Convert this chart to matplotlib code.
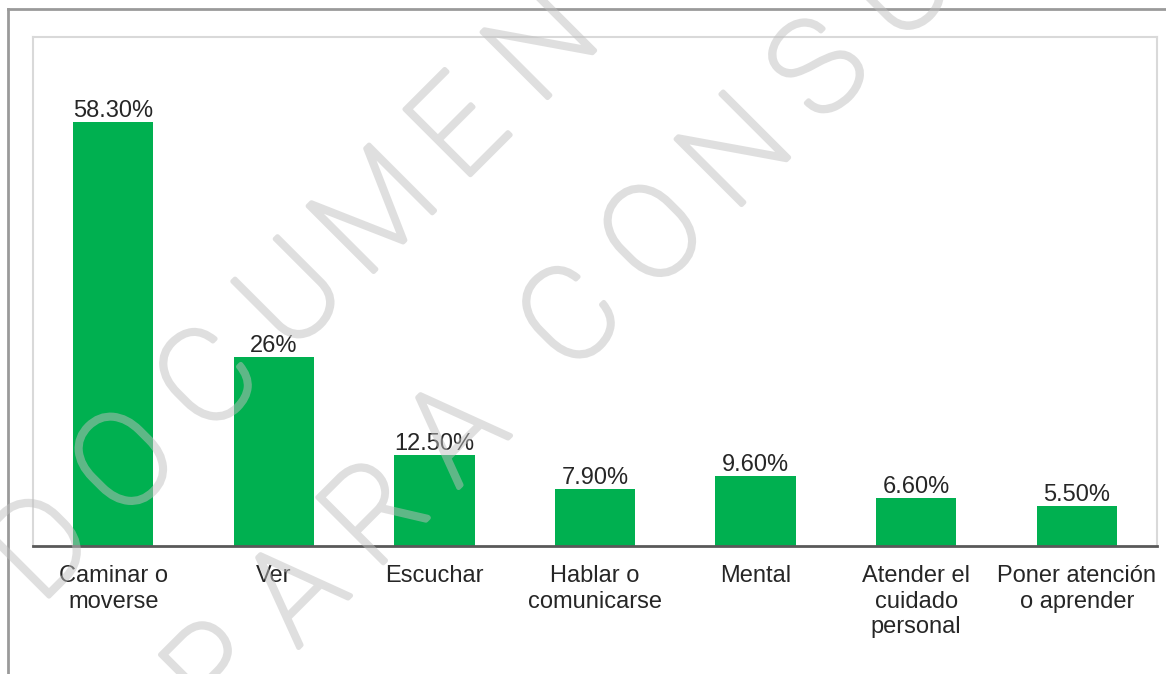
import numpy as np
import matplotlib.pyplot as plt
import matplotlib.patheffects as pe
from matplotlib.lines import Line2D

# data
categories = ["Caminar o\nmoverse", "Ver", "Escuchar", "Hablar o\ncomunicarse",
              "Mental", "Atender el\ncuidado\npersonal", "Poner atención\no aprender"]
values = [58.3, 26, 12.5, 7.9, 9.6, 6.6, 5.5]
value_labels = ["58.30%", "26%", "12.50%", "7.90%", "9.60%", "6.60%", "5.50%"]

W, H = 1166, 674
BAR_GREEN = "#00B050"
TEXT_COLOR = "#262626"
MARK_GRAY = "#c0c0c0"
FONT = ["Liberation Sans", "DejaVu Sans"]

plt.rcParams["font.family"] = FONT

fig = plt.figure(figsize=(W / 100, H / 100), dpi=100)
ax = fig.add_axes([33 / W, 1 - 546 / H, (1157 - 33) / W, (546 - 37) / H])

x = np.arange(len(categories))
bars = ax.bar(x, values, width=0.5, color=BAR_GREEN, zorder=2)
ax.bar_label(bars, labels=value_labels, padding=0, fontsize=17, color=TEXT_COLOR)

ax.set_xlim(-0.5, len(categories) - 0.5)
ax.set_ylim(0, 70)
ax.set_yticks([])
ax.set_xticks(x)
ax.set_xticklabels(categories, fontsize=17, color=TEXT_COLOR, linespacing=1.2)
ax.tick_params(axis="x", length=0, pad=14)

for side in ("top", "left", "right"):
    ax.spines[side].set_color("#d9d9d9")
    ax.spines[side].set_linewidth(1.5)
ax.spines["bottom"].set_color("#595959")
ax.spines["bottom"].set_linewidth(2)
ax.spines["bottom"].set_zorder(3)

# outer frame (top and left only visible)
fig.add_artist(Line2D([8 / W, 1], [1 - 9 / H, 1 - 9 / H], color="#9a9a9a", lw=2,
                      transform=fig.transFigure))
fig.add_artist(Line2D([8 / W, 8 / W], [0, 1 - 9 / H], color="#9a9a9a", lw=2,
                      transform=fig.transFigure))


def half_alpha(im, dpi):
    # make the whole letter see-through at once, so fill and stroke don't stack
    im = im.copy()
    im[..., 3] *= 0.5
    return im, 0, 0


# watermark, letters spaced along a 45 degree line
# (letters that fall fully outside the canvas are left out)
def watermark(word_offsets, diag_sum):
    for ch, d in word_offsets:
        px = (diag_sum + d) / 2
        py = (diag_sum - d) / 2
        t = fig.text(px / W, 1 - py / H, ch, rotation=45, rotation_mode="anchor",
                     ha="center", va="center", fontsize=94, color=MARK_GRAY,
                     family=["Roboto", "DejaVu Sans"], fontweight="light", zorder=5,
                     path_effects=[pe.Stroke(linewidth=3.4, foreground=MARK_GRAY),
                                   pe.Normal()])
        t.set_agg_filter(half_alpha)

line1 = [(c, -505 + 167 * i) for i, c in enumerate("DOCUMENT")]
line2 = [(c, -457 + 160 * i) for i, c in enumerate("PARA")]
line2 += [(c, 254 + 165 * i) for i, c in enumerate("CONSU")]
watermark(line1, 594)
watermark(line2, 895)

fig.savefig("out.png", dpi=100)
